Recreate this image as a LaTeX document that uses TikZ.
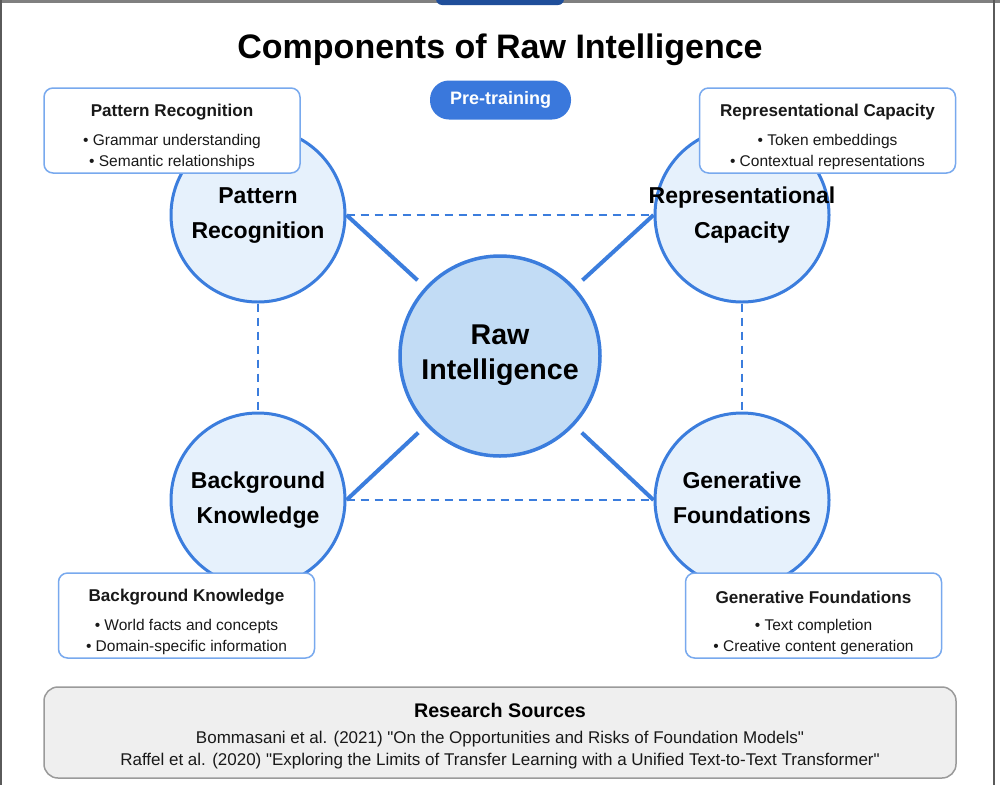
\documentclass[tikz,border=0pt]{standalone}
\usepackage{fontspec}
\setmainfont{Liberation Sans}[Ligatures=TeXOff]
\usetikzlibrary{calc}
\definecolor{cstroke}{HTML}{3B7DDD}
\definecolor{cfill}{HTML}{E6F1FC}
\definecolor{cfillc}{HTML}{C2DCF5}
\definecolor{pillblue}{HTML}{3A78DC}
\definecolor{boxstroke}{HTML}{78A9EE}
\definecolor{srcfill}{HTML}{EFEFEF}
\definecolor{srcstroke}{HTML}{9A9A9A}
\definecolor{framegrey}{HTML}{808080}
\definecolor{topblue}{HTML}{1F4E9A}
\tikzset{
  comp/.style={circle, draw=cstroke, line width=3pt, fill=cfill, minimum size=174pt, inner sep=0pt},
  centre/.style={circle, draw=cstroke, line width=3.5pt, fill=cfillc, minimum size=200pt, inner sep=0pt},
  infobox/.style={draw=boxstroke, line width=1.5pt, fill=white, rounded corners=9pt, minimum width=256pt, minimum height=85pt, inner sep=0pt},
  circlab/.style={font=\fontsize{23}{35}\selectfont\bfseries, align=center, text=black},
  centrelab/.style={font=\fontsize{28.6}{35}\selectfont\bfseries, align=center, text=black},
  boxtitle/.style={font=\fontsize{17.1}{20}\selectfont\bfseries, text=black!90, inner sep=0pt},
  boxitem/.style={font=\fontsize{15.5}{18}\selectfont, text=black!90, inner sep=0pt},
  srcitem/.style={font=\fontsize{17}{20}\selectfont, text=black!90, inner sep=0pt},
  solidlink/.style={draw=cstroke, line width=4pt},
  dashlink/.style={draw=cstroke, line width=2pt, dash pattern=on 8pt off 6pt},
}
\begin{document}
\begin{tikzpicture}[x=1pt,y=-1pt]
\useasboundingbox (0,0) rectangle (1000,785);
% window frame
\fill[white] (0,0) rectangle (1000,785);
\fill[framegrey] (0,0) rectangle (1000,3);
\draw[framegrey!70!black, line width=1.5pt] (1,0) -- (1,785);
\draw[framegrey!70!black, line width=1.5pt] (994,0) -- (994,785);
\fill[topblue, rounded corners=6pt] (436,-12) rectangle (564,5);

% title
\node[font=\fontsize{34}{40}\selectfont\bfseries] (title) at (500,50) {Components of Raw Intelligence};

% pre-training pill
\node[fill=pillblue, rounded corners=19pt, minimum width=141pt, minimum height=39pt, text=white, font=\fontsize{18}{20}\selectfont\bfseries] (pill) at (500.5,100) {Pre-training};

% circles
\node[centre] (ri) at (500,356) {};
\node[comp] (pr) at (258,215) {};
\node[comp] (rc) at (742,215) {};
\node[comp] (bk) at (258,500) {};
\node[comp] (gf) at (742,500) {};

% dashed links
\draw[dashlink] (pr.east) -- (rc.west);
\draw[dashlink] (bk.east) -- (gf.west);
\draw[dashlink] (pr.south) -- (bk.north);
\draw[dashlink] (rc.south) -- (gf.north);

% solid links
\coordinate (e1) at ($(ri.center)!112pt!(pr.east)$);
\coordinate (e2) at ($(ri.center)!112pt!(rc.west)$);
\coordinate (e3) at ($(ri.center)!112pt!(bk.east)$);
\coordinate (e4) at ($(ri.center)!112pt!(gf.west)$);
\draw[solidlink] (pr.east) -- (e1);
\draw[solidlink] (rc.west) -- (e2);
\draw[solidlink] (bk.east) -- (e3);
\draw[solidlink] (gf.west) -- (e4);

% circle labels
\node[centrelab] (ril) at (500,355.5) {Raw\\Intelligence};
\node[circlab] (prl) at (258,215.5) {Pattern\\Recognition};
\node[circlab] (rcl) at (742,215.5) {Representational\\Capacity};
\node[circlab] (bkl) at (258,500.5) {Background\\Knowledge};
\node[circlab] (gfl) at (742,497.5) {Generative\\Foundations};

% info boxes
\node[infobox] (prb) at (172,130.5) {};
\node[boxtitle] (prbt) at (172,112) {Pattern Recognition};
\node[boxitem] (prb1) at (172,141.5) {• Grammar understanding};
\node[boxitem] (prb2) at (172,162.5) {• Semantic relationships};

\node[infobox] (rcb) at (827.5,130.5) {};
\node[boxtitle] (rcbt) at (827.5,112) {Representational Capacity};
\node[boxitem] (rcb1) at (827.5,141.5) {• Token embeddings};
\node[boxitem] (rcb2) at (827.5,162.5) {• Contextual representations};

\node[infobox] (bkb) at (186.5,615.5) {};
\node[boxtitle] (bkbt) at (186.5,597.5) {Background Knowledge};
\node[boxitem] (bkb1) at (186.5,626.5) {• World facts and concepts};
\node[boxitem] (bkb2) at (186.5,647.5) {• Domain-specific information};

\node[infobox] (gfb) at (813.5,615.5) {};
\node[boxtitle] (gfbt) at (813.5,597.5) {Generative Foundations};
\node[boxitem] (gfb1) at (813.5,626.5) {• Text completion};
\node[boxitem] (gfb2) at (813.5,647.5) {• Creative content generation};

% research sources
\node[draw=srcstroke, line width=1.5pt, fill=srcfill, rounded corners=14pt, minimum width=912pt, minimum height=91pt] (src) at (500,732.5) {};
\node[font=\fontsize{19.7}{22}\selectfont\bfseries, inner sep=0pt] (srct) at (500,710.5) {Research Sources};
\node[srcitem] (src1) at (500,739.5) {Bommasani et al. (2021) "On the Opportunities and Risks of Foundation Models"};
\node[srcitem] (src2) at (500,761.5) {Raffel et al. (2020) "Exploring the Limits of Transfer Learning with a Unified Text-to-Text Transformer"};
\end{tikzpicture}
\end{document}
